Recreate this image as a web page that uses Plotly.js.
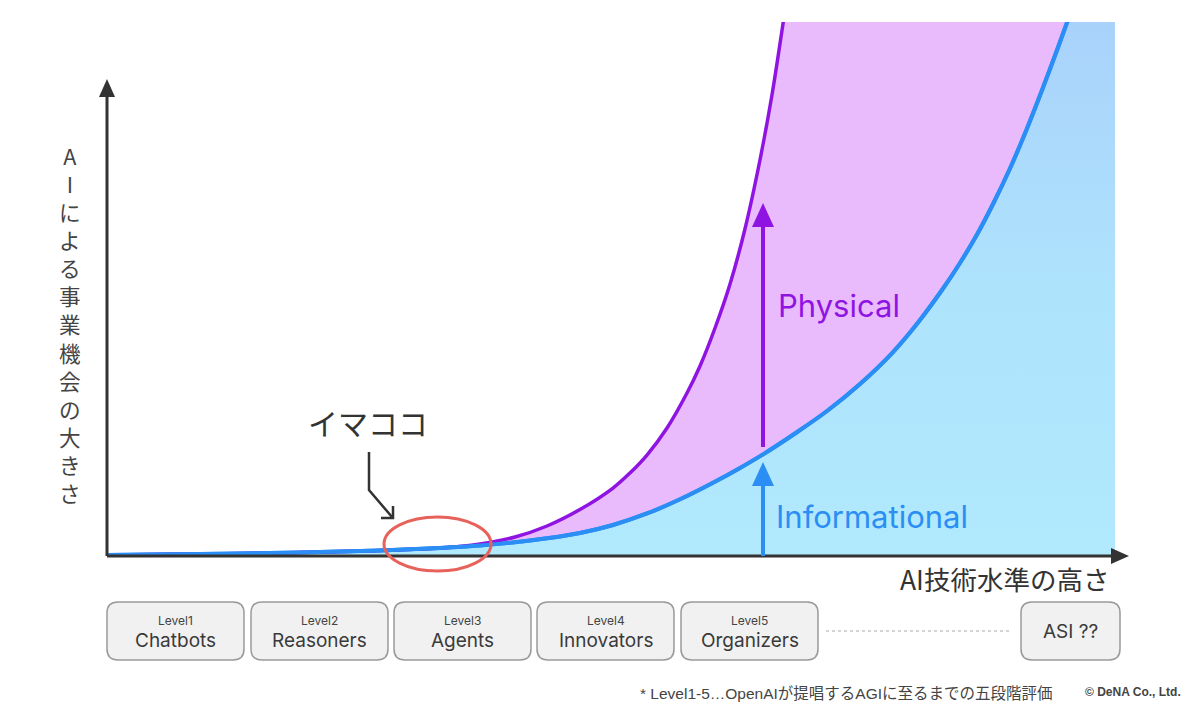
<!DOCTYPE html>
<html>
<head>
<meta charset="utf-8">
<script src="https://cdn.plot.ly/plotly-3.0.1.min.js"></script>
<style>
  html, body { margin: 0; padding: 0; background: #ffffff; }
  #chart { width: 1200px; height: 707px; }
</style>
</head>
<body>
<div id="chart"></div>
<script>
// AI technology level (x) vs. size of business opportunity (y), arbitrary 0-100 scale
const techLevel = [0, 9.23, 19.15, 27.08, 33.04, 37.0, 41.96, 46.92, 50.2, 53.57, 56.85, 60.12, 62.8, 65.08,
  68.25, 71.43, 74.7, 77.98, 80.46, 82.94, 84.62, 86.31, 87.9, 89.58, 91.27, 92.86, 94.05, 95.24, 96.53, 100];
const informational = [0.19, 0.37, 0.66, 1.03, 1.5, 1.97, 2.9, 4.31, 5.81, 7.96, 10.62, 13.71, 16.48, 19.03,
  22.94, 27.15, 32.21, 38.2, 43.73, 50.09, 54.87, 60.21, 65.92, 72.57, 80.06, 87.73, 93.73, 99.91, 106.74, 125.66];

const techLevelPhys = [0, 19.15, 33.04, 37.0, 40.48, 43.65, 46.92, 50.2, 51.88, 53.57, 55.56, 57.54, 58.83,
  60.32, 61.81, 63.29, 64.78, 65.97, 67.06, 67.76, 68.75, 100];
const physical = [0.19, 0.66, 1.5, 2.25, 3.56, 5.62, 8.71, 12.73, 15.54, 18.91, 23.97, 30.52, 35.58,
  42.7, 50.94, 61.24, 74.16, 86.33, 99.63, 108.8, 122.85, 197.75];

// OpenAI's five-level scale shown under the x axis
const levelTags = ['Level1', 'Level2', 'Level3', 'Level4', 'Level5'];
const levelNames = ['Chatbots', 'Reasoners', 'Agents', 'Innovators', 'Organizers'];
const finalStage = 'ASI ??';

const yTitle = 'AIによる事業機会の大きさ';
const xTitle = 'AI技術水準の高さ';
const nowLabel = 'イマココ';
const footnote = '* Level1-5…OpenAIが提唱するAGIに至るまでの五段階評価';
const credit = '© DeNA Co., Ltd.';

const BLUE = '#2b8ef4';
const PURPLE = '#8f14e2';
const INK = '#333333';
const LATIN = 'Inter, "Noto Sans", "Noto Sans CJK JP", sans-serif';
const JP = '"Noto Sans CJK JP", "Noto Sans", sans-serif';

// plot area in pixels: x 107..1115, y 22..556
const L = 107, R = 1115, T = 22, B = 556;
const px = x => (x - L) / (R - L);
const py = y => (B - y) / (B - T);

const traces = [
  {
    x: techLevel, y: informational, type: 'scatter', mode: 'lines',
    line: { color: BLUE, width: 4, shape: 'spline', smoothing: 1 },
    fill: 'tozeroy',
    fillgradient: { type: 'vertical', colorscale: [[0, '#b1e9fd'], [0.5, '#aee3fc'], [1, '#a9d2fb']], start: 0, stop: 100 },
    hoverinfo: 'skip'
  },
  {
    x: techLevelPhys, y: physical, type: 'scatter', mode: 'lines',
    line: { color: PURPLE, width: 3.5, shape: 'spline', smoothing: 1 },
    fill: 'tonexty', fillcolor: '#e9bbfd',
    hoverinfo: 'skip'
  },
  // informational line again, on top of the pink band
  {
    x: techLevel, y: informational, type: 'scatter', mode: 'lines',
    line: { color: BLUE, width: 4, shape: 'spline', smoothing: 1 },
    hoverinfo: 'skip'
  }
];

const shapes = [];
const annotations = [];

// axes with arrowheads
shapes.push({ type: 'line', xref: 'paper', yref: 'paper', x0: 0, y0: 0, x1: 0, y1: py(95), line: { color: INK, width: 3 } });
shapes.push({ type: 'line', xref: 'paper', yref: 'paper', x0: 0, y0: 0, x1: px(1114), y1: 0, line: { color: INK, width: 3 } });
shapes.push({ type: 'path', xref: 'paper', yref: 'paper', fillcolor: INK, line: { width: 0 },
  path: `M ${px(99)} ${py(97)} L ${px(115)} ${py(97)} L ${px(107)} ${py(79)} Z` });
shapes.push({ type: 'path', xref: 'paper', yref: 'paper', fillcolor: INK, line: { width: 0 },
  path: `M ${px(1111)} ${py(548)} L ${px(1111)} ${py(564)} L ${px(1129)} ${py(556)} Z` });

// Informational / Physical arrows
const arrowX = 65.08;
shapes.push({ type: 'line', xref: 'x', yref: 'paper', x0: arrowX, x1: arrowX, y0: 0, y1: py(478), line: { color: BLUE, width: 4 } });
shapes.push({ type: 'path', xref: 'paper', yref: 'paper', fillcolor: BLUE, line: { width: 0 },
  path: `M ${px(752)} ${py(486)} L ${px(774)} ${py(486)} L ${px(763)} ${py(462)} Z` });
shapes.push({ type: 'line', xref: 'x', yref: 'paper', x0: arrowX, x1: arrowX, y0: py(447), y1: py(222), line: { color: PURPLE, width: 4 } });
shapes.push({ type: 'path', xref: 'paper', yref: 'paper', fillcolor: PURPLE, line: { width: 0 },
  path: `M ${px(752)} ${py(227)} L ${px(774)} ${py(227)} L ${px(763)} ${py(203)} Z` });

annotations.push({ xref: 'paper', yref: 'paper', x: px(776), y: py(305), xanchor: 'left', yanchor: 'middle',
  text: 'Physical', showarrow: false, font: { family: LATIN, size: 31, color: PURPLE } });
annotations.push({ xref: 'paper', yref: 'paper', x: px(774), y: py(516), xanchor: 'left', yanchor: 'middle',
  text: 'Informational', showarrow: false, font: { family: LATIN, size: 31, color: BLUE } });

// "now" marker: label, bent pointer, ellipse
annotations.push({ xref: 'paper', yref: 'paper', x: px(368), y: py(422), xanchor: 'center', yanchor: 'middle',
  text: nowLabel, showarrow: false, font: { family: JP, size: 30, color: INK } });
shapes.push({ type: 'path', xref: 'paper', yref: 'paper', line: { color: INK, width: 2.5 },
  path: `M ${px(369)} ${py(452)} L ${px(369)} ${py(490)} L ${px(392)} ${py(517)}` });
shapes.push({ type: 'path', xref: 'paper', yref: 'paper', line: { color: INK, width: 2.5 },
  path: `M ${px(381)} ${py(518)} L ${px(393)} ${py(518)} L ${px(393)} ${py(506)}` });
shapes.push({ type: 'circle', xref: 'paper', yref: 'paper', x0: px(384), x1: px(491), y0: py(571), y1: py(517),
  line: { color: '#e8625c', width: 3 } });

// vertical y-axis title, one character per line
annotations.push({ xref: 'paper', yref: 'paper', x: px(70), y: py(323.5), xanchor: 'center', yanchor: 'middle',
  text: Array.from(yTitle).join('<br>'), showarrow: false, align: 'center',
  font: { family: JP, size: 21.6, color: '#444444' } });

annotations.push({ xref: 'paper', yref: 'paper', x: px(1111), y: py(578), xanchor: 'right', yanchor: 'middle',
  text: xTitle, showarrow: false, font: { family: JP, size: 26.5, color: INK } });

// level boxes under the axis
const boxLeft = [107, 251, 394, 537, 681];
const boxW = 137, boxTop = 602, boxBot = 660;
function roundedBox(x0, x1, y0, y1, r) {
  const a = px(x0), b = px(x1), rx = r / (R - L), ry = r / (B - T);
  const top = py(y0), bot = py(y1);
  return `M ${a + rx} ${top} L ${b - rx} ${top} Q ${b} ${top} ${b} ${top - ry} L ${b} ${bot + ry} Q ${b} ${bot} ${b - rx} ${bot} ` +
         `L ${a + rx} ${bot} Q ${a} ${bot} ${a} ${bot + ry} L ${a} ${top - ry} Q ${a} ${top} ${a + rx} ${top} Z`;
}
levelNames.forEach((name, i) => {
  const x0 = boxLeft[i], x1 = x0 + boxW, cx = (x0 + x1) / 2;
  shapes.push({ type: 'path', xref: 'paper', yref: 'paper', path: roundedBox(x0, x1, boxTop, boxBot, 11),
    fillcolor: '#f1f1f1', line: { color: '#9a9a9a', width: 1.5 } });
  annotations.push({ xref: 'paper', yref: 'paper', x: px(cx), y: py(620), xanchor: 'center', yanchor: 'middle',
    text: levelTags[i], showarrow: false, font: { family: LATIN, size: 12, color: '#444444' } });
  annotations.push({ xref: 'paper', yref: 'paper', x: px(cx), y: py(640), xanchor: 'center', yanchor: 'middle',
    text: name, showarrow: false, font: { family: LATIN, size: 19, color: '#3a3a3a' } });
});
shapes.push({ type: 'path', xref: 'paper', yref: 'paper', path: roundedBox(1021, 1120, boxTop, boxBot, 11),
  fillcolor: '#f1f1f1', line: { color: '#9a9a9a', width: 1.5 } });
annotations.push({ xref: 'paper', yref: 'paper', x: px(1070), y: py(631), xanchor: 'center', yanchor: 'middle',
  text: finalStage, showarrow: false, font: { family: LATIN, size: 19, color: '#3a3a3a' } });
shapes.push({ type: 'line', xref: 'paper', yref: 'paper', x0: px(826), x1: px(1012), y0: py(631), y1: py(631),
  line: { color: '#aaaaaa', width: 1.2, dash: 'dot' } });

// footnote and credit
annotations.push({ xref: 'paper', yref: 'paper', x: px(1055), y: py(693), xanchor: 'right', yanchor: 'middle',
  text: footnote, showarrow: false, font: { family: '"Liberation Sans", "Noto Sans CJK JP", sans-serif', size: 15.5, color: '#444444' } });
annotations.push({ xref: 'paper', yref: 'paper', x: px(1183), y: py(692), xanchor: 'right', yanchor: 'middle',
  text: '<b>' + credit + '</b>', showarrow: false, font: { family: '"Liberation Sans", sans-serif', size: 12, color: '#444444' } });

const layout = {
  width: 1200, height: 707,
  margin: { l: L, r: 1200 - R, t: T, b: 707 - B, pad: 0 },
  paper_bgcolor: '#ffffff', plot_bgcolor: '#ffffff',
  showlegend: false,
  xaxis: { range: [0, 100], visible: false, fixedrange: true },
  yaxis: { range: [0, 100], visible: false, fixedrange: true },
  shapes: shapes,
  annotations: annotations
};

Plotly.newPlot('chart', traces, layout, { displayModeBar: false, staticPlot: true });
</script>
</body>
</html>
